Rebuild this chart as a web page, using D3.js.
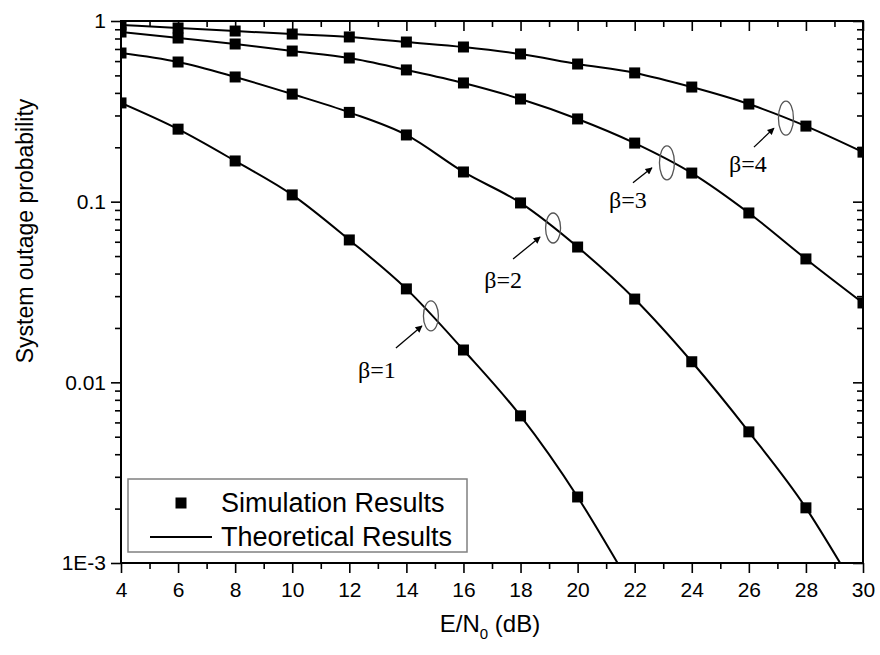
<!DOCTYPE html>
<html>
<head>
<meta charset="utf-8">
<script src="https://cdn.jsdelivr.net/npm/d3@7"></script>
<style>
  body { margin: 0; background: #fff; }
  text { font-family: Arial, "Liberation Sans", sans-serif; fill: #000; }
  .beta { font-family: "Times New Roman", "Liberation Serif", serif; }
</style>
</head>
<body>
<svg id="chart" width="880" height="655"></svg>
<script>
// ── Data ──────────────────────────────────
const snrDb = [4, 6, 8, 10, 12, 14, 16, 18, 20, 22, 24, 26, 28, 30];

// simulation squares, one per even dB step (truncated where below 1E-3)
const simBeta1 = [0.352, 0.252, 0.168, 0.109, 0.0614, 0.0329, 0.0151, 0.00652, 0.00232];
const simBeta2 = [0.665, 0.593, 0.490, 0.394, 0.312, 0.234, 0.146, 0.0984, 0.0561, 0.0289, 0.0130, 0.00532, 0.00202];
const simBeta3 = [0.869, 0.805, 0.746, 0.682, 0.624, 0.536, 0.454, 0.370, 0.287, 0.211, 0.144, 0.0866, 0.0482, 0.0275];
const simBeta4 = [0.950, 0.915, 0.880, 0.847, 0.816, 0.765, 0.718, 0.657, 0.578, 0.516, 0.431, 0.347, 0.262, 0.188];

// where the theoretical curve leaves the plot at the bottom (1E-3)
const theoryEndDb = [21.4, 29.2, null, null];

const yTickValues = [1, 0.1, 0.01, 0.001];
const yTickLabels = ["1", "0.1", "0.01", "1E-3"];
const xTickValues = [4, 6, 8, 10, 12, 14, 16, 18, 20, 22, 24, 26, 28, 30];

// ellipse annotations (centre on the curve, data units)
const betaLabels = ["β=1", "β=2", "β=3", "β=4"];
const betaMarkX  = [14.86, 19.14, 23.13, 27.30];
const betaMarkY  = [0.0233, 0.0715, 0.164, 0.29];

const legendLabels = ["Simulation Results", "Theoretical Results"];

// ── Layout ────────────────────────────────
const W = 880, H = 655;
const M = { left: 121, top: 21, right: 17, bottom: 92 };
const pw = W - M.left - M.right;   // 742
const ph = H - M.top - M.bottom;   // 542

// annotation offsets from the ellipse centre (px)
const labelDx = [-54, -50, -39, -38];
const labelDy = [62, 60, 45, 54];
const arrowX0 = [-35, -40, -34, -32];
const arrowY0 = [32, 31, 20, 29];
const arrowX1 = [-9, -13, -15, -12];
const arrowY1 = [10, 9, 5, 10];

const svg = d3.select('#chart');
const g = svg.append('g').attr('transform', `translate(${M.left},${M.top})`);

const x = d3.scaleLinear().domain([4, 30]).range([0, pw]);
const y = d3.scaleLog().domain([0.001, 1]).range([ph, 0]);

const series = [simBeta1, simBeta2, simBeta3, simBeta4].map((vals, i) => {
  const pts = vals.map((v, j) => ({ x: snrDb[j], y: v }));
  const line = pts.slice();
  if (theoryEndDb[i] !== null) line.push({ x: theoryEndDb[i], y: 0.001 });
  return { pts, line };
});

// ── Clip + arrow marker ───────────────────
const defs = svg.append('defs');
defs.append('clipPath').attr('id', 'plot-clip')
  .append('rect').attr('width', pw).attr('height', ph);

defs.append('marker')
  .attr('id', 'arrow')
  .attr('viewBox', '0 0 10 10')
  .attr('refX', 9).attr('refY', 5)
  .attr('markerWidth', 10).attr('markerHeight', 7)
  .attr('markerUnits', 'userSpaceOnUse')
  .attr('orient', 'auto')
  .append('path').attr('d', 'M0,0 L10,5 L0,10 Z').attr('fill', '#000');

// ── Axes ──────────────────────────────────
const MAJ = 10, MIN = 6;
const xMinor = d3.range(5, 30, 2);
const yMinor = [];
[0.001, 0.01, 0.1].forEach(d => { for (let k = 2; k <= 9; k++) yMinor.push(d * k); });

function styleAxis(sel) {
  sel.select('.domain').remove();
  sel.selectAll('.tick line').attr('stroke', '#000').attr('stroke-width', 1.6);
  sel.selectAll('.tick text').attr('font-size', 21);
}

// bottom (outside)
g.append('g').attr('transform', `translate(0,${ph})`)
  .call(d3.axisBottom(x).tickValues(xTickValues).tickSize(MAJ).tickPadding(9).tickFormat(d3.format('d')))
  .call(styleAxis);
g.append('g').attr('transform', `translate(0,${ph})`)
  .call(d3.axisBottom(x).tickValues(xMinor).tickSize(MIN).tickFormat(''))
  .call(styleAxis);
// top (inside)
g.append('g')
  .call(d3.axisBottom(x).tickValues(xTickValues).tickSize(MAJ).tickFormat(''))
  .call(styleAxis);
g.append('g')
  .call(d3.axisBottom(x).tickValues(xMinor).tickSize(MIN).tickFormat(''))
  .call(styleAxis);
// left (outside)
g.append('g')
  .call(d3.axisLeft(y).tickValues(yTickValues).tickSize(MAJ).tickPadding(5)
    .tickFormat((d, i) => yTickLabels[i]))
  .call(styleAxis);
g.append('g')
  .call(d3.axisLeft(y).tickValues(yMinor).tickSize(MIN).tickFormat(''))
  .call(styleAxis);
// right (inside)
g.append('g').attr('transform', `translate(${pw},0)`)
  .call(d3.axisLeft(y).tickValues(yTickValues).tickSize(MAJ).tickFormat(''))
  .call(styleAxis);
g.append('g').attr('transform', `translate(${pw},0)`)
  .call(d3.axisLeft(y).tickValues(yMinor).tickSize(MIN).tickFormat(''))
  .call(styleAxis);

// frame
g.append('rect').attr('width', pw).attr('height', ph)
  .attr('fill', 'none').attr('stroke', '#000').attr('stroke-width', 2);

// ── Curves + squares ──────────────────────
const lineGen = d3.line()
  .x(d => x(d.x)).y(d => y(d.y))
  .curve(d3.curveMonotoneX);

const plot = g.append('g').attr('clip-path', 'url(#plot-clip)');

series.forEach(s => {
  plot.append('path')
    .attr('d', lineGen(s.line))
    .attr('fill', 'none').attr('stroke', '#000').attr('stroke-width', 2);
});

const SQ = 11;
series.forEach(s => {
  plot.selectAll(null).data(s.pts).enter().append('rect')
    .attr('x', d => x(d.x) - SQ / 2)
    .attr('y', d => y(d.y) - SQ / 2)
    .attr('width', SQ).attr('height', SQ)
    .attr('fill', '#000');
});

// ── β annotations ─────────────────────────
betaLabels.forEach((lab, i) => {
  const cx = x(betaMarkX[i]), cy = y(betaMarkY[i]);
  const ry = i < 2 ? 15 : 17;
  g.append('ellipse')
    .attr('cx', cx).attr('cy', cy).attr('rx', 7.5).attr('ry', ry)
    .attr('fill', 'none').attr('stroke', '#555').attr('stroke-width', 1.3);
  g.append('line')
    .attr('x1', cx + arrowX0[i]).attr('y1', cy + arrowY0[i])
    .attr('x2', cx + arrowX1[i]).attr('y2', cy + arrowY1[i])
    .attr('stroke', '#000').attr('stroke-width', 1.3)
    .attr('marker-end', 'url(#arrow)');
  g.append('text').attr('class', 'beta')
    .attr('x', cx + labelDx[i]).attr('y', cy + labelDy[i])
    .attr('text-anchor', 'middle')
    .attr('font-size', 24)
    .text(lab);
});

// ── Axis titles ───────────────────────────
const xt = svg.append('text')
  .attr('x', M.left + pw / 2 - 2).attr('y', 632)
  .attr('text-anchor', 'middle')
  .attr('font-size', 24);
xt.append('tspan').text('E/N');
xt.append('tspan').attr('font-size', 15).attr('dy', 7).text('0');
xt.append('tspan').attr('dy', -7).text(' (dB)');

svg.append('text')
  .attr('transform', `translate(33,${M.top + 210}) rotate(-90)`)
  .attr('text-anchor', 'middle')
  .attr('font-size', 23)
  .text('System outage probability');

// ── Legend ────────────────────────────────
const lg = svg.append('g').attr('transform', 'translate(128,479)');
lg.append('rect').attr('width', 339).attr('height', 73)
  .attr('fill', '#fff').attr('stroke', '#808080').attr('stroke-width', 1.5);
lg.append('rect').attr('x', 53 - SQ / 2).attr('y', 24 - SQ / 2)
  .attr('width', SQ).attr('height', SQ).attr('fill', '#000');
lg.append('line').attr('x1', 22).attr('x2', 84).attr('y1', 58).attr('y2', 58)
  .attr('stroke', '#000').attr('stroke-width', 2);
lg.selectAll('text.leg').data(legendLabels).enter().append('text')
  .attr('class', 'leg')
  .attr('x', 93).attr('y', (d, i) => 33 + i * 34)
  .attr('font-size', 27)
  .text(d => d);
</script>
</body>
</html>
